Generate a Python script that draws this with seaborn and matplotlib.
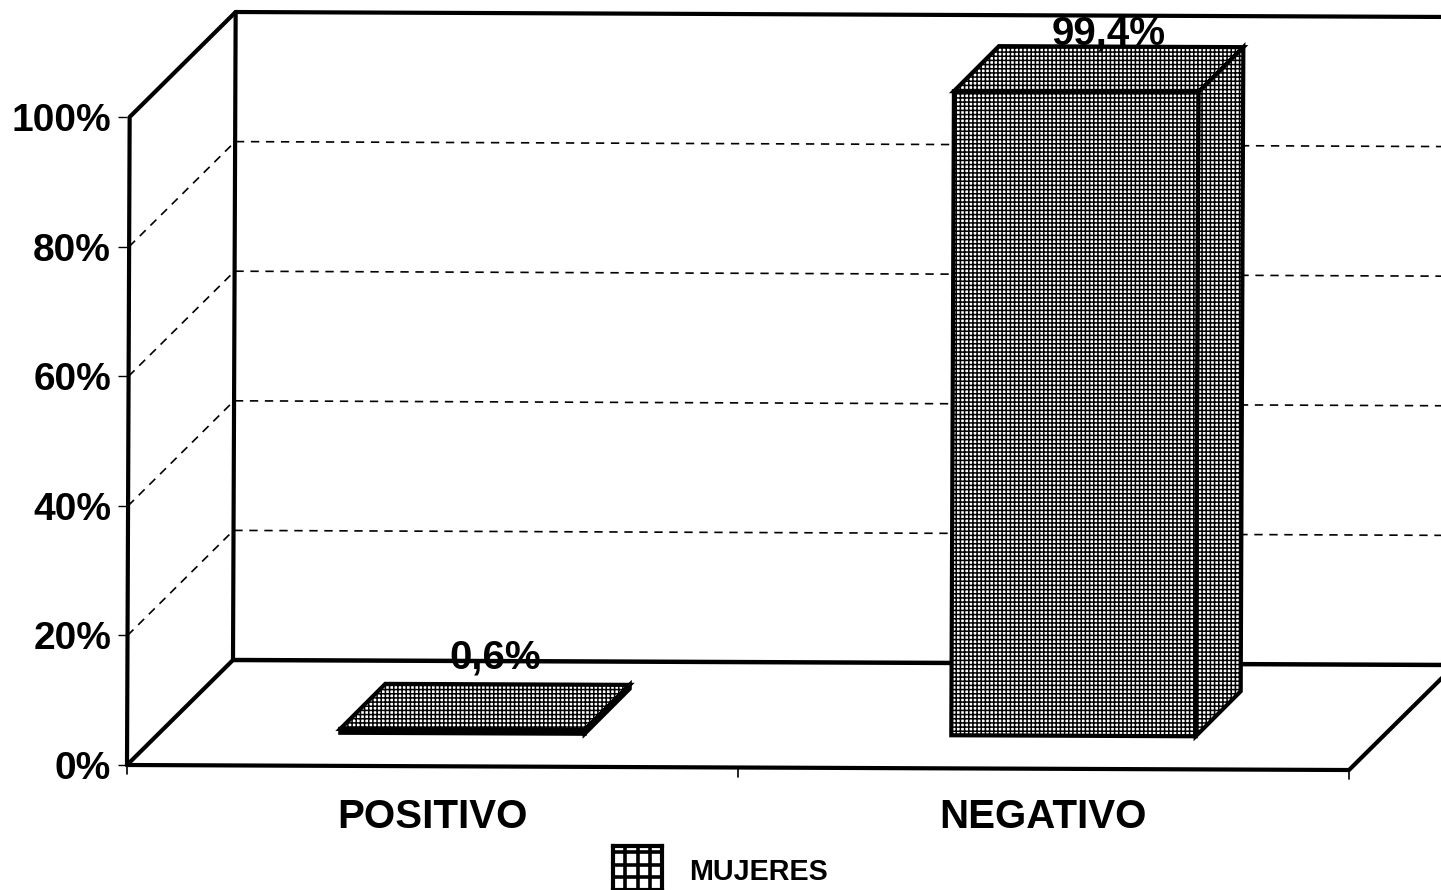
import numpy as np
import pandas as pd
import matplotlib.pyplot as plt
import seaborn as sns
from matplotlib.patches import Polygon
from matplotlib.transforms import Affine2D, IdentityTransform

categories = ["POSITIVO", "NEGATIVO"]
percentages = [0.6, 99.4]
value_labels = ["0,6%", "99,4%"]
y_ticks = [0, 20, 40, 60, 80, 100]
y_tick_labels = ["0%", "20%", "40%", "60%", "80%", "100%"]
series_name = "MUJERES"

df = pd.DataFrame({"resultado": categories, "porcentaje": percentages})

sns.set_theme(style="white")
plt.rcParams["font.family"] = ["Liberation Sans", "DejaVu Sans"]
plt.rcParams["hatch.linewidth"] = 1.1

W, H = 1441, 890
fig = plt.figure(figsize=(W / 100, H / 100), dpi=100)
ax = fig.add_axes([127 / W, (H - 765) / H, (1349 - 127) / W, (765 - 117) / H])
ax.patch.set_alpha(0)

sns.barplot(data=df, x="resultado", y="porcentaje", width=0.4, color="white",
            edgecolor="black", linewidth=3, saturation=1, ax=ax)
ax.set_xlim(-0.5, 1.5)
ax.set_ylim(0, 100)

# the scan is slightly tilted, depth of the fake 3d box in pixels
tilt = Affine2D().rotate_deg_around(127, H - 765, -0.235)
wall_dx, wall_dy = 106, 105
bar_dx, bar_dy = 30, 33
bar_depth = 45


def px(x, y, dx=0, dy=0):
    p = tilt.transform(ax.transData.transform((x, y)))
    return (p[0] + dx, p[1] + dy)


def line(points, lw=3, ls="-", z=1):
    xs, ys = zip(*points)
    ax.plot(xs, ys, color="black", lw=lw, ls=ls, transform=IdentityTransform(),
            clip_on=False, zorder=z, solid_capstyle="round")


# gridlines on side wall and back wall
for v in y_ticks[1:-1]:
    line([px(-0.5, v), px(-0.5, v, wall_dx, wall_dy), px(1.5, v, wall_dx, wall_dy)],
         lw=1.2, ls=(0, (5, 4)))

# walls and floor
line([px(-0.5, 0), px(-0.5, 100), px(-0.5, 100, wall_dx, wall_dy), px(1.5, 100, wall_dx, wall_dy)])
line([px(-0.5, 0), px(-0.5, 0, wall_dx, wall_dy), px(-0.5, 100, wall_dx, wall_dy)])
line([px(-0.5, 0, wall_dx, wall_dy), px(1.5, 0, wall_dx, wall_dy)], lw=3.2)
line([px(-0.5, 0), px(1.5, 0), px(1.5, 0, wall_dx, wall_dy)])

# x ticks between the categories
for x in [-0.5, 0.5, 1.5]:
    line([px(x, 0), px(x, 0, 0, -9)], lw=1.2)

# bars: front from seaborn, top and side polygons built from it
label_lift = [105, 91]
shift = Affine2D().translate(bar_dx, bar_dy)
for i, patch in enumerate(ax.patches):
    patch.set_transform(ax.transData + tilt + shift)
    patch.set_hatch("++++")
    patch.set_clip_on(False)
    patch.set_zorder(3)
    x0, x1 = patch.get_x(), patch.get_x() + patch.get_width()
    v = patch.get_height()
    top = [px(x0, v, bar_dx, bar_dy), px(x1, v, bar_dx, bar_dy),
           px(x1, v, bar_dx + bar_depth, bar_dy + bar_depth),
           px(x0, v, bar_dx + bar_depth, bar_dy + bar_depth)]
    side = [px(x1, 0, bar_dx, bar_dy), px(x1, 0, bar_dx + bar_depth, bar_dy + bar_depth),
            px(x1, v, bar_dx + bar_depth, bar_dy + bar_depth), px(x1, v, bar_dx, bar_dy)]
    for poly in (top, side):
        ax.add_patch(Polygon(poly, closed=True, facecolor="white", edgecolor="black",
                             hatch="++++", lw=3, transform=IdentityTransform(),
                             clip_on=False, zorder=2.9))
    lx, ly = px(i, v, bar_dx + bar_depth / 2 + 10, label_lift[i])
    ax.text(lx, ly, value_labels[i], transform=IdentityTransform(), ha="center",
            va="center", fontsize=29, fontweight="bold", color="black", zorder=5)

ax.set_xlabel("")
ax.set_ylabel("")
ax.set_yticks(y_ticks)
ax.set_yticklabels(y_tick_labels, fontsize=28, fontweight="bold", color="black")
ax.tick_params(axis="y", left=True, length=6.5, width=1, pad=5, color="black")
ax.set_xticks(range(len(categories)))
ax.set_xticklabels(categories, fontsize=29, fontweight="bold", color="black")
ax.tick_params(axis="x", bottom=False, pad=18)
for sp in ax.spines.values():
    sp.set_visible(False)

# legend swatch
sw = fig.add_axes([613 / W, 0, 49 / W, 44 / H])
sw.set_xlim(0, 4)
sw.set_ylim(0, 3.5)
sw.set_xticks(np.arange(0, 5))
sw.set_yticks(np.arange(0, 4))
sw.set_xticklabels([])
sw.set_yticklabels([])
sw.tick_params(length=0)
sw.grid(True, color="black", lw=2.6)
for sp in sw.spines.values():
    sp.set_linewidth(3)
    sp.set_color("black")
fig.text(689 / W, (H - 872) / H, series_name, fontsize=20.7, fontweight="bold",
         color="black", va="center", ha="left")

fig.savefig("out.png", dpi=100)
